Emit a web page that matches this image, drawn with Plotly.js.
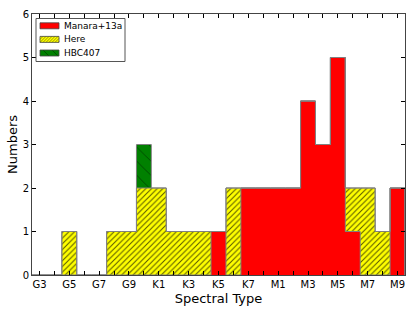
<!DOCTYPE html>
<html>
<head>
<meta charset="utf-8">
<script src="https://cdn.plot.ly/plotly-3.0.1.min.js"></script>
<style>html,body{margin:0;padding:0;background:#fff;}#chart{width:415px;height:312px;}</style>
</head>
<body>
<div id="chart"></div>
<script>
var categories = ['G3','G4','G5','G6','G7','G8','G9','K0','K1','K2','K3','K4','K5','K6','K7','M0','M1','M2','M3','M4','M5','M6','M7','M8','M9'];
var manara = [0,0,0,0,0,0,0,0,0,0,0,0,1,0,2,2,2,2,4,3,5,1,0,0,2];
var here   = [0,0,1,0,0,1,1,2,2,1,1,1,0,2,0,0,0,0,0,0,0,1,2,1,0];
var hbc407 = [0,0,0,0,0,0,0,1,0,0,0,0,0,0,0,0,0,0,0,0,0,0,0,0,0];
var tickLabels = ['G3','G5','G7','G9','K1','K3','K5','K7','M1','M3','M5','M7','M9'];
var seriesNames = ['Manara+13a','Here','HBC407'];

var idx = categories.map(function(c,i){return i;});
var tickText = categories.map(function(c){return tickLabels.indexOf(c) >= 0 ? c : '';});

function cum(arrs){
  return idx.map(function(i){var s=0; arrs.forEach(function(a){s+=a[i];}); return s;});
}
function outline(vals){
  var xs=[-0.5], ys=[0];
  idx.forEach(function(i){xs.push(i-0.5); ys.push(vals[i]);});
  xs.push(idx.length-0.5); ys.push(vals[idx.length-1]);
  xs.push(idx.length-0.5); ys.push(0);
  return {x:xs, y:ys, type:'scatter', mode:'lines', line:{shape:'hv', color:'#808080', width:1}, showlegend:false, hoverinfo:'skip'};
}

var traces = [
  {x:idx, y:manara, type:'bar', name:seriesNames[0], width:1,
   marker:{color:'#ff0000', line:{width:0}}},
  {x:idx, y:here, type:'bar', name:seriesNames[1], width:1,
   marker:{color:'#ffff00', line:{width:0}, pattern:{shape:'/', bgcolor:'#ffff00', fgcolor:'#555500', size:4, solidity:0.25}}},
  {x:idx, y:hbc407, type:'bar', name:seriesNames[2], width:1,
   marker:{color:'#008000', line:{width:0}, pattern:{shape:'\\', bgcolor:'#008000', fgcolor:'#004000', size:10, solidity:0.08}}},
  outline(cum([manara])),
  outline(cum([manara, here])),
  outline(cum([manara, here, hbc407]))
];

// --- custom legend (pixel helpers -> paper coords) ---
var M = {l:32, r:10, t:14, b:37}, W = 415, H = 312;
var pw = W - M.l - M.r, ph = H - M.t - M.b;
function px(x){return (x - M.l)/pw;}
function py(y){return 1 - (y - M.t)/ph;}
var shapes = [], annotations = [];
shapes.push({type:'rect', xref:'paper', yref:'paper', x0:px(36), x1:px(125), y0:py(18.5), y1:py(61.5),
  line:{color:'#555', width:1}, fillcolor:'#fff', layer:'above'});
var swatchFill = ['#ff0000','#ffff00','#008000'];
var hatchCol = [null, '#555500', '#003300'];
var hatchStep = [0, 3, 9];
var hatchDir = [0, 1, -1];
function hatchLines(x0,x1,y0,y1,step,dir,col){
  var h = y1 - y0, out = [];
  for (var s = x0 - h; s < x1; s += step){
    // line from (s, y1) to (s+h, y0) for dir=1 ('/'), bottom-left to top-right in screen coords
    var ax = s, ay = y1, bx = s + h, by = y0;
    if (dir < 0){ ay = y0; by = y1; }
    // clip in x
    var t0 = 0, t1 = 1;
    if (ax < x0) t0 = Math.max(t0, (x0 - ax)/(bx - ax));
    if (bx > x1) t1 = Math.min(t1, (x1 - ax)/(bx - ax));
    if (t1 <= t0) continue;
    var cx0 = ax + (bx-ax)*t0, cy0 = ay + (by-ay)*t0, cx1 = ax + (bx-ax)*t1, cy1 = ay + (by-ay)*t1;
    out.push({type:'line', xref:'paper', yref:'paper', x0:px(cx0), y0:py(cy0), x1:px(cx1), y1:py(cy1),
      line:{color:col, width:0.6}, layer:'above'});
  }
  return out;
}
seriesNames.forEach(function(n,i){
  var yc = 25.8 + i*13.6;
  var sx0 = 40, sx1 = 59, sy0 = yc - 3, sy1 = yc + 3;
  shapes.push({type:'rect', xref:'paper', yref:'paper', x0:px(sx0), x1:px(sx1), y0:py(sy0), y1:py(sy1),
    line:{width:0}, fillcolor:swatchFill[i], layer:'above'});
  if (hatchCol[i]) shapes = shapes.concat(hatchLines(sx0, sx1, sy0, sy1, hatchStep[i], hatchDir[i], hatchCol[i]));
  shapes.push({type:'rect', xref:'paper', yref:'paper', x0:px(sx0), x1:px(sx1), y0:py(sy0), y1:py(sy1),
    line:{color:'#444', width:0.8}, fillcolor:'rgba(0,0,0,0)', layer:'above'});
  annotations.push({xref:'paper', yref:'paper', x:px(61.5), y:py(yc), xanchor:'left', yanchor:'middle',
    text:n, showarrow:false, font:{size:9, family:'DejaVu Sans', color:'#000'}});
});

var layout = {
  width:W, height:H,
  margin:M,
  paper_bgcolor:'#fff', plot_bgcolor:'#fff',
  barmode:'stack', bargap:0,
  font:{family:'DejaVu Sans', color:'#000', size:10},
  xaxis:{range:[-0.5, 24.5], tickmode:'array', tickvals:idx, ticktext:tickText,
    ticks:'inside', ticklen:4, tickcolor:'#000', tickwidth:1,
    showline:true, linecolor:'#444', linewidth:1, mirror:'ticks', showgrid:false, zeroline:false,
    tickfont:{size:10}, title:{text:'Spectral Type', font:{size:13}, standoff:4}},
  yaxis:{range:[0,6], dtick:1, ticks:'inside', ticklen:4, tickcolor:'#000', tickwidth:1,
    showline:true, linecolor:'#444', linewidth:1, mirror:'ticks', showgrid:false, zeroline:false,
    tickfont:{size:10}, title:{text:'Numbers', font:{size:13}, standoff:2}},
  shapes:shapes,
  annotations:annotations,
  showlegend:false
};

Plotly.newPlot('chart', traces, layout, {staticPlot:true, displayModeBar:false});
</script>
</body>
</html>
